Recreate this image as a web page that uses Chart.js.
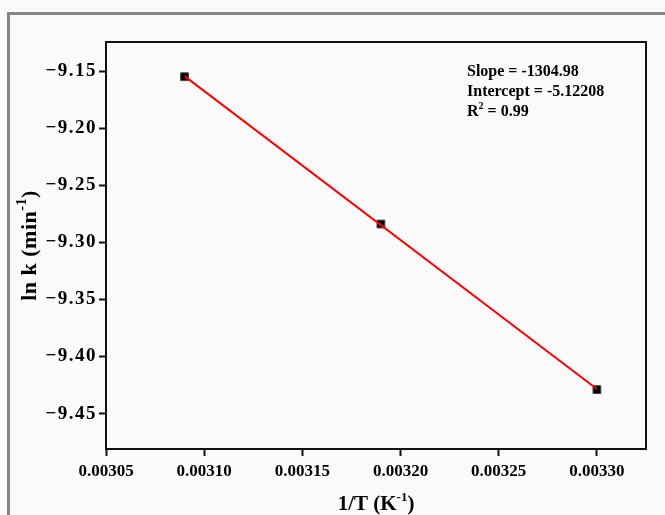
<!DOCTYPE html>
<html>
<head>
<meta charset="utf-8">
<script src="https://cdn.jsdelivr.net/npm/chart.js@4.4.1/dist/chart.umd.min.js"></script>
<style>
  html, body { margin: 0; padding: 0; background: #fafafa; overflow: hidden; }
  #wrap { position: relative; width: 665px; height: 515px; }
  #frame { position: absolute; left: 7px; top: 12px; width: 700px; height: 600px;
           border: 3px solid #858585; box-sizing: border-box; }
  canvas { position: absolute; left: 0; top: 0; }
</style>
</head>
<body>
<div id="wrap">
  <div id="frame"></div>
  <canvas id="myChart" width="665" height="515"></canvas>
</div>
<script>
// данные
const invT = [0.00309, 0.00319, 0.00330];
const lnK = [-9.155, -9.284, -9.429];
// линия аппроксимации (концы)
const fitX = [0.00309, 0.00330];
const fitY = [-9.1545, -9.4285];
const xTicks = [0.00305, 0.00310, 0.00315, 0.00320, 0.00325, 0.00330];
const yTicks = [-9.45, -9.40, -9.35, -9.30, -9.25, -9.20, -9.15];
const fitText = [
  [{ t: 'Slope = -1304.98' }],
  [{ t: 'Intercept = -5.12208' }],
  [{ t: 'R' }, { t: '2', sup: true }, { t: ' = 0.99' }]
];
const xTitle = [{ t: '1/T (K' }, { t: '-1', sup: true }, { t: ')' }];
const yTitle = [{ t: 'ln k (min' }, { t: '-1', sup: true }, { t: ')' }];

const FONT = 'Liberation Serif';

// рисуем строку с верхними индексами
function drawParts(ctx, parts, x, y, size, align) {
  const big = 'bold ' + size + 'px "' + FONT + '"';
  const small = 'bold ' + Math.round(size * 0.62) + 'px "' + FONT + '"';
  let total = 0;
  parts.forEach(p => { ctx.font = p.sup ? small : big; total += ctx.measureText(p.t).width; });
  let cx = align === 'center' ? x - total / 2 : x;
  ctx.textAlign = 'left';
  ctx.textBaseline = 'middle';
  parts.forEach(p => {
    ctx.font = p.sup ? small : big;
    ctx.fillText(p.t, cx, p.sup ? y - size * 0.35 : y);
    cx += ctx.measureText(p.t).width;
  });
}

const extras = {
  id: 'extras',
  afterDraw(chart) {
    const ctx = chart.ctx;
    const a = chart.chartArea;
    ctx.save();
    ctx.strokeStyle = '#111';
    ctx.lineWidth = 2;
    ctx.strokeRect(a.left, a.top, a.right - a.left, a.bottom - a.top);
    ctx.fillStyle = '#000';
    // подписи осей
    drawParts(ctx, xTitle, (a.left + a.right) / 2, 505, 21, 'center');
    ctx.save();
    ctx.translate(30, (a.top + a.bottom) / 2);
    ctx.rotate(-Math.PI / 2);
    ctx.letterSpacing = '0.5px';
    drawParts(ctx, yTitle, 0, 0, 22, 'center');
    ctx.restore();
    // параметры аппроксимации
    fitText.forEach((line, i) => drawParts(ctx, line, 467, 72 + i * 20, 16, 'left'));
    ctx.restore();
  }
};

const tickFont = { family: FONT, weight: 'bold', size: 17 };

const ctx = document.getElementById('myChart').getContext('2d');
const chart = new Chart(ctx, {
  type: 'scatter',
  data: {
    datasets: [
      {
        label: 'fit',
        data: fitX.map((x, i) => ({ x: x, y: fitY[i] })),
        showLine: true,
        borderColor: '#ff0000',
        borderWidth: 2,
        pointRadius: 0,
        order: 0
      },
      {
        label: 'ln k',
        data: invT.map((x, i) => ({ x: x, y: lnK[i] })),
        pointStyle: 'rect',
        pointRadius: 5.5,
        backgroundColor: '#000',
        borderColor: '#444',
        borderWidth: 1,
        order: 1
      }
    ]
  },
  options: {
    responsive: false,
    animation: false,
    layout: { padding: { top: 42, right: 19, left: 0, bottom: 0 } },
    plugins: { legend: { display: false }, tooltip: { enabled: false } },
    scales: {
      x: {
        type: 'linear',
        min: 0.00305,
        max: 0.003325,
        afterBuildTicks: s => { s.ticks = xTicks.map(v => ({ value: v })); },
        afterFit: s => { s.height = 66; },
        grid: { drawOnChartArea: false, drawTicks: true, tickLength: 7, tickColor: '#111', tickWidth: 2 },
        border: { display: true, color: '#111', width: 2 },
        ticks: { font: tickFont, color: '#000', padding: 5, maxRotation: 0,
                 callback: v => v.toFixed(5) }
      },
      y: {
        type: 'linear',
        min: -9.481,
        max: -9.1246,
        afterBuildTicks: s => { s.ticks = yTicks.map(v => ({ value: v })); },
        afterFit: s => { s.width = 106; },
        grid: { drawOnChartArea: false, drawTicks: true, tickLength: 7, tickColor: '#111', tickWidth: 2 },
        border: { display: true, color: '#111', width: 2 },
        ticks: { font: { family: FONT, weight: 'bold', size: 19 }, color: '#000', padding: 2,
                 callback: v => '\u2212' + Math.abs(v).toFixed(2) }
      }
    }
  },
  plugins: [extras]
});

// подписи оси Y в оригинале шире — немного разрядки
const yScale = chart.scales.y;
const origDrawLabels = yScale.drawLabels.bind(yScale);
yScale.drawLabels = function (area) {
  this.ctx.save();
  this.ctx.letterSpacing = '1.5px';
  origDrawLabels(area);
  this.ctx.restore();
};
chart.draw();
</script>
</body>
</html>
